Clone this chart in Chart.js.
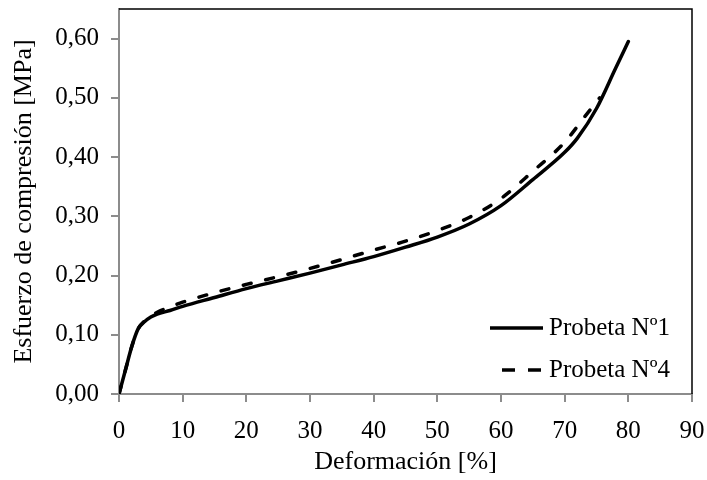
<!DOCTYPE html>
<html>
<head>
<meta charset="utf-8">
<script src="https://cdn.jsdelivr.net/npm/chart.js@4/dist/chart.umd.min.js"></script>
<style>
  html, body { margin: 0; padding: 0; background: #fff; }
  #wrap { width: 707px; height: 480px; position: relative; }
</style>
</head>
<body>
<div id="wrap"><canvas id="chart"></canvas></div>
<script>
// Deformación [%] / Esfuerzo [MPa]
const defor1 = [0, 1, 2, 3, 4, 5, 6, 8, 10, 15, 20, 25, 30, 35, 40, 45, 50, 55, 60, 65, 70, 72, 75, 78, 80];
const esf1 = [0, 0.04, 0.08, 0.11, 0.122, 0.13, 0.135, 0.141, 0.148, 0.163, 0.178, 0.191, 0.204, 0.218, 0.232, 0.248, 0.265, 0.287, 0.318, 0.362, 0.408, 0.432, 0.482, 0.55, 0.595];

const defor4 = [0, 1, 2, 3, 4, 5, 6, 8, 10, 15, 20, 25, 30, 35, 40, 45, 50, 55, 60, 65, 70, 73, 75.5];
const esf4 = [0, 0.04, 0.08, 0.11, 0.123, 0.132, 0.138, 0.147, 0.155, 0.171, 0.185, 0.198, 0.212, 0.227, 0.243, 0.258, 0.276, 0.298, 0.33, 0.376, 0.425, 0.466, 0.5];

const xTicks = [0, 10, 20, 30, 40, 50, 60, 70, 80, 90];
const yTicks = [0, 0.1, 0.2, 0.3, 0.4, 0.5, 0.6];
const labels = ["Probeta Nº1", "Probeta Nº4"];

const FONT = "'Liberation Serif'";
const AXIS_GREY = "#8c8c8c";

const toPoints = (xs, ys) => xs.map((x, i) => ({ x: x, y: ys[i] }));

// top/right frame of the plot area plus the legend inside it
const frameAndLegend = {
    id: "frameAndLegend",
    afterDraw(chart) {
        const { ctx, chartArea } = chart;
        ctx.save();
        ctx.strokeStyle = "#000";
        ctx.lineWidth = 1.5;
        ctx.beginPath();
        ctx.moveTo(chartArea.left, chartArea.top);
        ctx.lineTo(chartArea.right, chartArea.top);
        ctx.lineTo(chartArea.right, chartArea.bottom);
        ctx.stroke();

        const rows = [
            { y: 328, dash: [], x0: 490 },
            { y: 370, dash: [13, 13], x0: 502 },
        ];
        ctx.font = "25px " + FONT;
        ctx.fillStyle = "#000";
        ctx.textBaseline = "middle";
        rows.forEach((r, i) => {
            ctx.beginPath();
            ctx.setLineDash(r.dash);
            ctx.lineWidth = 3.5;
            ctx.moveTo(r.x0, r.y);
            ctx.lineTo(543, r.y);
            ctx.stroke();
            ctx.setLineDash([]);
            ctx.fillText(labels[i], 549, r.y);
        });
        ctx.restore();
    },
};

function draw() {
    new Chart(document.getElementById("chart"), {
        type: "scatter",
        data: {
            datasets: [
                {
                    label: labels[0],
                    data: toPoints(defor1, esf1),
                    showLine: true,
                    borderColor: "#000",
                    borderWidth: 3.5,
                    pointRadius: 0,
                    cubicInterpolationMode: "monotone",
                    borderCapStyle: "round",
                },
                {
                    label: labels[1],
                    data: toPoints(defor4, esf4),
                    showLine: true,
                    borderColor: "#000",
                    borderWidth: 3.5,
                    borderDash: [8, 15],
                    borderCapStyle: "round",
                    pointRadius: 0,
                    cubicInterpolationMode: "monotone",
                },
            ],
        },
        options: {
            responsive: true,
            maintainAspectRatio: false,
            animation: false,
            layout: { padding: { left: 0, top: 9, right: 15, bottom: 0 } },
            plugins: {
                legend: { display: false },
                tooltip: { enabled: false },
            },
            scales: {
                x: {
                    type: "linear",
                    min: 0,
                    max: 90,
                    afterBuildTicks: (s) => { s.ticks = xTicks.map((v) => ({ value: v })); },
                    afterFit: (s) => { s.height = 86; s.paddingLeft = 0; s.paddingRight = 0; },
                    border: { color: AXIS_GREY, width: 2 },
                    grid: { drawOnChartArea: false, color: AXIS_GREY, lineWidth: 2, tickLength: 8 },
                    ticks: { color: "#000", padding: 14, font: { family: FONT, size: 25 } },
                    title: {
                        display: true,
                        text: "Deformación [%]",
                        color: "#000",
                        padding: { top: 0, bottom: 2 },
                        font: { family: FONT, size: 26 },
                    },
                },
                y: {
                    type: "linear",
                    min: 0,
                    max: 0.65,
                    afterBuildTicks: (s) => { s.ticks = yTicks.map((v) => ({ value: v })); },
                    afterFit: (s) => { s.width = 119; s.paddingTop = 0; s.paddingBottom = 0; },
                    border: { color: AXIS_GREY, width: 2 },
                    grid: { drawOnChartArea: false, color: AXIS_GREY, lineWidth: 2, tickLength: 8 },
                    ticks: {
                        color: "#000",
                        padding: 12,
                        font: { family: FONT, size: 25 },
                        callback: (v) => v.toFixed(2).replace(".", ","),
                    },
                    title: {
                        display: true,
                        text: "Esfuerzo de compresión [MPa]",
                        color: "#000",
                        padding: { top: 9, bottom: 0 },
                        font: { family: FONT, size: 26 },
                    },
                },
            },
        },
        plugins: [frameAndLegend],
    });
}

document.fonts.load("25px 'Liberation Serif'").then(draw, draw);
</script>
</body>
</html>
